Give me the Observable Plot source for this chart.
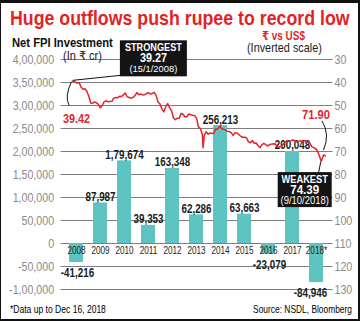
<!DOCTYPE html>
<html><head><meta charset="utf-8">
<script src="https://cdn.jsdelivr.net/npm/d3@7"></script>
<script src="https://cdn.jsdelivr.net/npm/@observablehq/plot@0.6"></script>
<style>
html,body{margin:0;padding:0;background:#fff;}
#chart{position:relative;width:360px;height:321px;overflow:hidden;background:#fff;}
#chart svg{position:absolute;left:0;top:0;}
#frame{position:absolute;left:0;top:0;width:360px;height:321px;box-sizing:border-box;border-style:solid;border-color:#111;border-width:3px 2px 2px 1px;pointer-events:none;z-index:10;}
</style></head>
<body><div id="chart"><div id="frame"></div></div>
<script>
const FONT = "'Liberation Sans',Arial,'DejaVu Sans',sans-serif";
const NARROW = 0.82; // horizontal squeeze to mimic a narrow face

// Net FPI investment (Rs crore) per year
const years = ["2008","2009","2010","2011","2012","2013","2014","2015","2016","2017","2018*"];
const fpiValues = [-41216, 87987, 179674, 39353, 163348, 62286, 256213, 63663, -23079, 200048, -84946];
const fpiLabels = ["-41,216","87,987","1,79,674","39,353","163,348","62,286","256,213","63,663","-23,079","200,048","-84,946"];
const fpiTicks = [-100000,-50000,0,50000,100000,150000,200000,250000,300000,350000,400000];
const fpiTickLabels = ["-1,00,000","-50,000","0","50,000","1,00,000","1,50,000","2,00,000","2,50,000","3,00,000","3,50,000","4,00,000"];

// Rupee vs US$ (inverted scale)
const rupeeTicks = [30,40,50,60,70,80,90,100,110,120,130];
const rupeeSeries = [
["2008-01-01",39.42],["2008-01-15",39.27],["2008-02-15",39.8],["2008-03-15",40.3],["2008-04-15",40.0],["2008-05-15",42.0],["2008-06-15",42.9],["2008-07-15",42.7],["2008-08-15",43.8],["2008-09-15",46.0],["2008-10-15",48.9],["2008-11-15",49.0],["2008-12-15",48.5],
["2009-01-15",48.8],["2009-02-15",49.6],["2009-03-15",51.0],["2009-04-15",50.0],["2009-05-15",48.4],["2009-06-15",47.9],["2009-07-15",48.4],["2009-08-15",48.3],["2009-09-15",48.2],["2009-10-15",46.8],["2009-11-15",46.5],["2009-12-15",46.6],
["2010-01-15",46.0],["2010-02-15",46.1],["2010-03-15",45.4],["2010-04-15",44.6],["2010-05-15",46.2],["2010-06-15",46.5],["2010-07-15",46.8],["2010-08-15",46.5],["2010-09-15",45.7],["2010-10-15",44.4],["2010-11-15",45.3],["2010-12-15",45.0],
["2011-01-15",45.4],["2011-02-15",45.3],["2011-03-15",44.8],["2011-04-15",44.4],["2011-05-15",45.0],["2011-06-15",44.8],["2011-07-15",44.3],["2011-08-15",45.6],["2011-09-15",48.5],["2011-10-15",49.3],["2011-11-15",51.5],["2011-12-15",52.8],
["2012-01-15",50.5],["2012-02-15",49.2],["2012-03-15",51.0],["2012-04-15",52.2],["2012-05-15",55.3],["2012-06-15",56.2],["2012-07-15",55.5],["2012-08-15",55.6],["2012-09-15",53.4],["2012-10-15",53.8],["2012-11-15",55.0],["2012-12-15",54.8],
["2013-01-15",53.7],["2013-02-15",54.0],["2013-03-15",54.3],["2013-04-15",54.3],["2013-05-15",55.5],["2013-06-15",59.3],["2013-07-15",60.0],["2013-08-15",62.5],["2013-08-28",68.4],["2013-09-15",63.0],["2013-10-15",61.4],["2013-11-15",62.5],["2013-12-15",61.9],
["2014-01-15",62.2],["2014-02-15",62.1],["2014-03-15",60.1],["2014-04-15",60.3],["2014-05-15",59.0],["2014-06-15",60.0],["2014-07-15",60.3],["2014-08-15",60.6],["2014-09-15",61.2],["2014-10-15",61.3],["2014-11-15",61.8],["2014-12-15",63.0],
["2015-01-15",61.8],["2015-02-15",62.0],["2015-03-15",62.6],["2015-04-15",63.4],["2015-05-15",63.8],["2015-06-15",63.8],["2015-07-15",64.0],["2015-08-15",65.8],["2015-09-15",66.2],["2015-10-15",65.2],["2015-11-15",66.4],["2015-12-15",66.3],
["2016-01-15",67.5],["2016-02-15",68.3],["2016-03-15",67.0],["2016-04-15",66.5],["2016-05-15",67.0],["2016-06-15",67.6],["2016-07-15",67.0],["2016-08-15",66.8],["2016-09-15",66.6],["2016-10-15",66.7],["2016-11-15",68.2],["2016-12-15",67.9],
["2017-01-15",67.8],["2017-02-15",66.9],["2017-03-15",66.0],["2017-04-15",65.3],["2017-05-15",65.6],["2017-06-15",65.4],["2017-07-15",65.0],["2017-08-15",65.3],["2017-09-15",65.9],["2017-10-15",65.6],["2017-11-15",65.3],["2017-12-15",65.8],
["2018-01-15",65.2],["2018-02-15",65.6],["2018-03-15",66.0],["2018-04-15",66.5],["2018-05-15",68.0],["2018-06-15",68.3],["2018-07-15",68.8],["2018-08-15",70.0],["2018-09-15",72.3],["2018-10-09",74.39],["2018-10-25",73.2],["2018-11-15",71.5],["2018-12-16",71.90]
];

const fpi = years.map((y, i) => ({year: y, value: fpiValues[i], label: fpiLabels[i]}));
const rupee = rupeeSeries.map(([d, r]) => ({date: new Date(d + "T00:00:00Z"), rate: r}));
const tickLabel = new Map(fpiTicks.map((t, i) => [t, fpiTickLabels[i]]));
const lastYear = years[years.length - 1];

const W = 360, H = 321;
const M = {top: 59, bottom: 32, left: 60.6, right: 27.5};
const chart = document.getElementById("chart");

// squeeze texts horizontally around their anchor (to a given width if data-len is set)
function squeeze(svg) {
  svg.querySelectorAll("text").forEach(t => {
    const L = t.getComputedTextLength();
    if (!(L > 0)) return;
    const want = t.getAttribute("data-len");
    const k = (want ? +want : L * NARROW) / L;
    const x = parseFloat(t.getAttribute("x")) || 0;
    const y = parseFloat(t.getAttribute("y")) || 0;
    const prev = t.getAttribute("transform") || "";
    t.setAttribute("transform", `${prev} translate(${x},${y}) scale(${k.toFixed(4)},1) translate(${-x},${-y})`);
  });
}

const barPlot = Plot.plot({
  width: W, height: H,
  marginTop: M.top, marginBottom: M.bottom, marginLeft: M.left, marginRight: M.right,
  x: {domain: years, paddingInner: 0.4, paddingOuter: 0.2, axis: null},
  y: {domain: [-100000, 400000]},
  style: {background: "transparent", fontFamily: FONT, overflow: "visible"},
  marks: [
    Plot.ruleY(fpiTicks, {stroke: "#6f6f6f", strokeWidth: 0.9}),
    Plot.axisY(fpiTicks, {anchor: "left", tickSize: 0, tickPadding: 7, tickFormat: d => tickLabel.get(d), color: "#8a8a8a", fontSize: 13, label: null}),
    Plot.barY(fpi, {x: "year", y: "value", fill: "#5ec4c1"}),
    Plot.text(fpi, {x: "year", y: 0, text: "year", lineAnchor: "top", dy: 3, fontSize: 10, fill: "#222"}),
    Plot.text(fpi.filter(d => d.value > 0), {x: "year", y: "value", text: "label", lineAnchor: "bottom", dy: -2, fontSize: 12, fontWeight: "bold", fill: "#1a1a1a"}),
    Plot.text(fpi.filter(d => d.value < 0 && d.year !== lastYear), {x: "year", y: "value", text: "label", lineAnchor: "top", dy: 6, dx: 1, fontSize: 12, fontWeight: "bold", fill: "#1a1a1a"}),
    Plot.text(fpi.filter(d => d.value < 0 && d.year === lastYear), {x: "year", y: "value", text: "label", lineAnchor: "top", dy: 6, dx: -6, fontSize: 12, fontWeight: "bold", fill: "#1a1a1a"})
  ]
});
chart.appendChild(barPlot);
squeeze(barPlot);

const first = rupee[0], last = rupee[rupee.length - 1];
const strongest = d3.least(rupee, d => d.rate);
const weakest = d3.greatest(rupee, d => d.rate);
const fmt2 = d3.format(".2f");
const fmtDay = d3.utcFormat("(%-d/%-m/%Y)");

function annotations(index, scales) {
  const x = scales.x, y = scales.y;
  const g = d3.create("svg:g").attr("font-family", FONT);
  const path = d => g.append("path").attr("d", d).attr("fill", "none").attr("stroke", "#111").attr("stroke-width", 1);
  const txt = (px, py, s, size, weight, fill, len) => {
    g.append("text").attr("x", px).attr("y", py).attr("text-anchor", "middle")
      .attr("font-size", size).attr("font-weight", weight).attr("fill", fill)
      .attr("data-len", len).text(s);
  };
  // first value
  const fx = x(first.date), fy = y(first.rate);
  path(`M${fx - 0.5},${fy + 1} Q${fx - 7.6},${fy + 15.8} ${fx - 3},${fy + 24.5}`);
  txt(fx + 4.5, fy + 42, fmt2(first.rate), 13, "bold", "#e3242b", 27);
  // strongest
  const sx = x(strongest.date), sy = y(strongest.rate);
  path(`M${sx},${sy} L${sx + 48},${sy - 5}`);
  g.append("rect").attr("x", sx + 47).attr("y", sy - 40).attr("width", 67).attr("height", 36).attr("fill", "#141414");
  txt(sx + 80.5, sy - 29.5, "STRONGEST", 10.5, "bold", "#fff", 57);
  txt(sx + 80.5, sy - 18.5, fmt2(strongest.rate), 12, "bold", "#fff", 27);
  txt(sx + 80.5, sy - 8, fmtDay(strongest.date), 9.5, "normal", "#fff", 48);
  // weakest
  const wx = x(weakest.date), wy = y(weakest.rate);
  path(`M${wx - 2},${wy + 11} L${wx},${wy + 1}`);
  g.append("rect").attr("x", wx - 43).attr("y", wy + 11).attr("width", 54).attr("height", 35).attr("fill", "#141414");
  txt(wx - 16, wy + 22, "WEAKEST", 11, "bold", "#fff", 46.5);
  txt(wx - 16, wy + 33, fmt2(weakest.rate), 12, "bold", "#fff", 29);
  txt(wx - 16, wy + 43, fmtDay(weakest.date), 10, "normal", "#fff", 48.5);
  // last value
  const lx = x(last.date), ly = y(last.rate);
  path(`M${lx - 3},${ly - 34.4} Q${lx + 5.25},${ly - 20.9} ${lx - 1.5},${ly - 5.4}`);
  txt(lx - 9, ly - 36, fmt2(last.rate), 13, "bold", "#e3242b", 28);
  return g.node();
}

const linePlot = Plot.plot({
  width: W, height: H,
  marginTop: M.top, marginBottom: M.bottom, marginLeft: M.left, marginRight: M.right,
  x: {type: "utc", domain: [first.date, last.date], range: [72, 325], axis: null},
  y: {domain: [30, 130], reverse: true},
  style: {background: "transparent", fontFamily: FONT, overflow: "visible"},
  marks: [
    Plot.axisY(rupeeTicks, {anchor: "right", tickSize: 0, tickPadding: 1.5, color: "#8a8a8a", fontSize: 13, label: null}),
    Plot.line(rupee, {x: "date", y: "rate", stroke: "#e3242b", strokeWidth: 1.5, strokeLinejoin: "round"}),
    annotations
  ]
});
chart.appendChild(linePlot);
squeeze(linePlot);

// titles and notes
const hdr = d3.select(chart).append("svg").attr("width", W).attr("height", H).style("font-family", FONT);
const label = (px, py, s, size, weight, fill, len, anchor = "start") =>
  hdr.append("text").attr("x", px).attr("y", py).attr("font-size", size).attr("font-weight", weight)
    .attr("fill", fill).attr("text-anchor", anchor).attr("data-len", len).text(s);
label(10, 25.5, "Huge outflows push rupee to record low", 20, "bold", "#e41f25", 340);
label(12, 47, "Net FPI Investment", 13, "bold", "#111", 101);
label(63, 60.5, "(In \u20b9 cr)", 12.5, "normal", "#222", 39);
label(262, 40, "\u20b9 vs US$", 12.5, "bold", "#e41f25", 43);
label(247, 52.5, "(Inverted scale)", 12.5, "normal", "#222", 75);
label(10, 313, "*Data up to Dec 16, 2018", 10.5, "normal", "#000", 96);
label(352, 313, "Source: NSDL, Bloomberg", 10.5, "normal", "#000", 99, "end");
squeeze(hdr.node());
</script>
</body></html>
